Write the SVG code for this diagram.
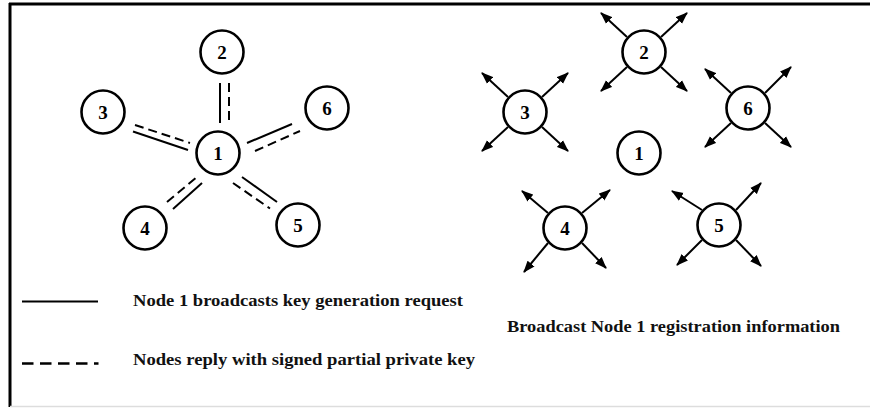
<svg xmlns="http://www.w3.org/2000/svg" width="870" height="408" viewBox="0 0 870 408">
<style>
.node circle{fill:#fff;stroke:#000;stroke-width:2.6}
.node text{font-family:"Liberation Serif","Times New Roman",serif;font-weight:bold;font-size:19px;text-anchor:middle;fill:#000}
.solid{stroke:#000;stroke-width:2;fill:none}
.dash{stroke:#000;stroke-width:2;fill:none;stroke-dasharray:9 5}
.arr{stroke:#000;stroke-width:2;fill:none;marker-end:url(#ah)}
.lbl{font-family:"Liberation Serif","Times New Roman",serif;font-weight:bold;font-size:16.5px;fill:#111}
</style>
<defs>
<marker id="ah" markerUnits="userSpaceOnUse" markerWidth="12" markerHeight="10" refX="11" refY="5" orient="auto">
<path d="M0,0.5 L12,5 L0,9.5 Z" fill="#000"/>
</marker>
</defs>
<rect x="0" y="0" width="870" height="408" fill="#fff"/>
<g id="frame">
<line x1="9" y1="4" x2="870" y2="4" stroke="#000" stroke-width="3"/>
<line x1="10" y1="3" x2="10" y2="407" stroke="#000" stroke-width="3"/>
<line x1="10" y1="406.5" x2="870" y2="406.5" stroke="#ddd" stroke-width="1.5"/>
</g>
<g id="connectors">
<line class="solid" x1="220" y1="83" x2="220" y2="123"/>
<line class="dash" x1="229" y1="83" x2="229" y2="123"/>
<line class="solid" x1="133" y1="131.5" x2="188" y2="150"/>
<line class="dash" x1="135" y1="125" x2="190" y2="143"/>
<line class="solid" x1="247" y1="143" x2="292" y2="124"/>
<line class="dash" x1="255" y1="151" x2="300" y2="131"/>
<line class="dash" x1="167" y1="202" x2="197" y2="177"/>
<line class="solid" x1="173" y1="209" x2="202" y2="183"/>
<line class="dash" x1="233" y1="183" x2="270" y2="208.5"/>
<line class="solid" x1="242" y1="177" x2="277" y2="202"/>
<line class="solid" x1="22" y1="301.5" x2="98" y2="301.5" stroke-width="2.5"/>
<line x1="22" y1="363.5" x2="98.5" y2="363.5" stroke="#000" stroke-width="2.5" stroke-dasharray="11.5 6.5"/>
<g id="arrows">
<path class="arr" d="M627,37 L601,13"/>
<path class="arr" d="M661,37 L687,13"/>
<path class="arr" d="M627,67 L601,91"/>
<path class="arr" d="M661,67 L687,91"/>
<path class="arr" d="M508,97 L482,73"/>
<path class="arr" d="M542,97 L568,73"/>
<path class="arr" d="M508,127 L482,151"/>
<path class="arr" d="M542,127 L568,151"/>
<path class="arr" d="M731,93 L705,69"/>
<path class="arr" d="M765,93 L791,67"/>
<path class="arr" d="M731,123 L705,147"/>
<path class="arr" d="M765,123 L791,147"/>
<path class="arr" d="M548,213 L522,191"/>
<path class="arr" d="M582,213 L610,190"/>
<path class="arr" d="M548,243 L524,272"/>
<path class="arr" d="M582,243 L606,268"/>
<path class="arr" d="M702,210 L672,191"/>
<path class="arr" d="M736,210 L761,183"/>
<path class="arr" d="M702,240 L677,265"/>
<path class="arr" d="M736,240 L761,266"/>
</g>
</g>
<g id="L1" class="node"><circle cx="218" cy="153" r="21.5"/><text x="218" y="159.5">1</text></g>
<g id="L2" class="node"><circle cx="222" cy="52" r="21.5"/><text x="222" y="58.5">2</text></g>
<g id="L3" class="node"><circle cx="103" cy="112" r="21.5"/><text x="103" y="118.5">3</text></g>
<g id="L4" class="node"><circle cx="145" cy="228" r="21.5"/><text x="145" y="234.5">4</text></g>
<g id="L5" class="node"><circle cx="298" cy="225" r="21.5"/><text x="298" y="231.5">5</text></g>
<g id="L6" class="node"><circle cx="327" cy="108" r="21.5"/><text x="327" y="114.5">6</text></g>
<g id="R1" class="node"><circle cx="639" cy="153" r="21.5"/><text x="639" y="159.5">1</text></g>
<g id="R2" class="node"><circle cx="644" cy="52" r="21.5"/><text x="644" y="58.5">2</text></g>
<g id="R3" class="node"><circle cx="525" cy="112" r="21.5"/><text x="525" y="118.5">3</text></g>
<g id="R4" class="node"><circle cx="565" cy="228" r="21.5"/><text x="565" y="234.5">4</text></g>
<g id="R5" class="node"><circle cx="719" cy="225" r="21.5"/><text x="719" y="231.5">5</text></g>
<g id="R6" class="node"><circle cx="748" cy="108" r="21.5"/><text x="748" y="114.5">6</text></g>
<g id="legend">
<text class="lbl" x="133" y="305.5" textLength="330" lengthAdjust="spacingAndGlyphs">Node 1 broadcasts key generation request</text>
<text class="lbl" x="133" y="365" textLength="342" lengthAdjust="spacingAndGlyphs">Nodes reply with signed partial private key</text>
<text class="lbl" x="507" y="332" textLength="333" lengthAdjust="spacingAndGlyphs">Broadcast Node 1 registration information</text>
</g>
</svg>
